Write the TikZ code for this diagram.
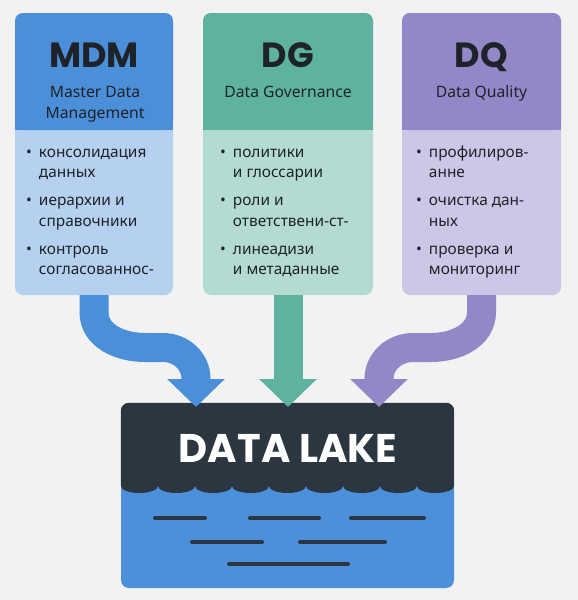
\documentclass[tikz,border=0pt]{standalone}
\usepackage{fontspec}
\setmainfont{Noto Sans}
\newfontfamily\headfont{Poppins}
\usetikzlibrary{arrows.meta,positioning}
\definecolor{bggray}{RGB}{242,242,242}
\definecolor{inkdark}{RGB}{30,35,41}
\definecolor{mdmdark}{RGB}{75,143,217}
\definecolor{mdmlight}{RGB}{182,208,239}
\definecolor{dgdark}{RGB}{93,179,159}
\definecolor{dglight}{RGB}{179,219,210}
\definecolor{dqdark}{RGB}{147,135,199}
\definecolor{dqlight}{RGB}{205,199,231}
\definecolor{lakedark}{RGB}{43,54,64}
\definecolor{lakeblue}{RGB}{76,144,219}
\tikzstyle{colbox} = [rectangle, rounded corners=8pt, minimum height=282pt, inner sep=0pt]
\tikzstyle{headbox} = [rectangle, rounded corners=8pt, minimum height=117pt, inner sep=0pt]
\tikzstyle{titletext} = [anchor=base, inner sep=0pt, text=inkdark, font=\headfont\fontsize{35}{40}\selectfont\bfseries]
\tikzstyle{subtext} = [anchor=base, inner sep=0pt, text=inkdark, font=\fontsize{15.7}{21}\selectfont]
\tikzstyle{listtext} = [anchor=base west, inner sep=0pt, text=inkdark, font=\fontsize{15.4}{20.5}\selectfont]
\tikzstyle{lakebox} = [rectangle, rounded corners=8pt, minimum width=333pt, minimum height=185pt, inner sep=0pt, fill=lakeblue]
\tikzstyle{laketitle} = [anchor=base, inner sep=0pt, text=white, font=\headfont\fontsize{40}{46}\selectfont\bfseries]
\tikzstyle{ripple} = [line width=4pt, line cap=round, color=lakedark]
\tikzstyle{flow} = [line width=29pt, -{Triangle[width=56pt,length=28pt]}]
\newcommand{\entries}[6]{\begin{tabular}[t]{@{}l@{\hspace{7pt}}l@{}}
\textbullet & #1\\ & #2\\[7.5pt]
\textbullet & #3\\ & #4\\[7.5pt]
\textbullet & #5\\ & #6
\end{tabular}}

\begin{document}
\begin{tikzpicture}[x=1pt,y=-1pt]
\useasboundingbox (0,0) rectangle (578,600);
\fill[bggray] (0,0) rectangle (578,600);

% Data lake
\node[lakebox] (lake) at (287.5,495.5) {};
\begin{scope}
\clip[rounded corners=8pt] (lake.north west) rectangle (lake.south east);
\fill[lakedark] (lake.north west) -- (121,486)
  \foreach \i in {1,...,9} {arc[start angle=180, end angle=360, x radius=18.5pt, y radius=7pt]}
  -- (lake.north east) -- cycle;
\end{scope}
\foreach \xa/\xb/\yy in {155/205/518, 250/319/518, 351/424/518, 192/262/542, 300/385/542, 229/348/564}
  \draw[ripple] (\xa,\yy) -- (\xb,\yy);
\node[laketitle] (laketitle) at (288,462) {DATA LAKE};
\coordinate (inmdm) at (196,407);
\coordinate (indg) at (288,407);
\coordinate (indq) at (379,407);

% MDM
\node[colbox, fill=mdmlight, minimum width=158pt] (mdm) at (94,154) {};
\node[headbox, fill=mdmdark, minimum width=158pt, anchor=north] (mdmhead) at (mdm.north) {};
\fill[mdmdark] ([yshift=8pt]mdmhead.south west) rectangle (mdmhead.south east);
\node[titletext] (mdmtitle) at (94,67) {MDM};
\node[subtext] (mdmsub) at (95,97) {\begin{tabular}[t]{@{}c@{}}Master Data\\Management\end{tabular}};
\node[listtext] (mdmlist) at (26,157) {\entries{консолидация}{данных}{иерархии и}{справочники}{контроль}{согласованнос-}};

% DG
\node[colbox, fill=dglight, minimum width=170pt] (dg) at (288,154) {};
\node[headbox, fill=dgdark, minimum width=170pt, anchor=north] (dghead) at (dg.north) {};
\fill[dgdark] ([yshift=8pt]dghead.south west) rectangle (dghead.south east);
\node[titletext] (dgtitle) at (288,67) {DG};
\node[subtext] (dgsub) at (288,97) {Data Governance};
\node[listtext] (dglist) at (220,157) {\entries{политики}{и глоссарии}{роли и}{ответствени-ст-}{линеадизи}{и метаданные}};

% DQ
\node[colbox, fill=dqlight, minimum width=159pt] (dq) at (481.5,154) {};
\node[headbox, fill=dqdark, minimum width=159pt, anchor=north] (dqhead) at (dq.north) {};
\fill[dqdark] ([yshift=8pt]dqhead.south west) rectangle (dqhead.south east);
\node[titletext] (dqtitle) at (481.5,67) {DQ};
\node[subtext] (dqsub) at (481.5,97) {Data Quality};
\node[listtext] (dqlist) at (416,157) {\entries{профилиров-}{анне}{очистка дан-}{ных}{проверка и}{мониторинг}};

% Flows into the lake
\draw[flow, color=mdmdark] (mdm.south) -- (94,312) to[out=-90,in=180] (145,347.5) -- (163,347.5) to[out=0,in=90] (196,379) -- (inmdm);
\draw[flow, color=dgdark] (dg.south) -- (indg);
\draw[flow, color=dqdark] (dq.south) -- (481.5,312) to[out=-90,in=0] (431,347.5) -- (413,347.5) to[out=180,in=90] (379,379) -- (indq);
\end{tikzpicture}
\end{document}
